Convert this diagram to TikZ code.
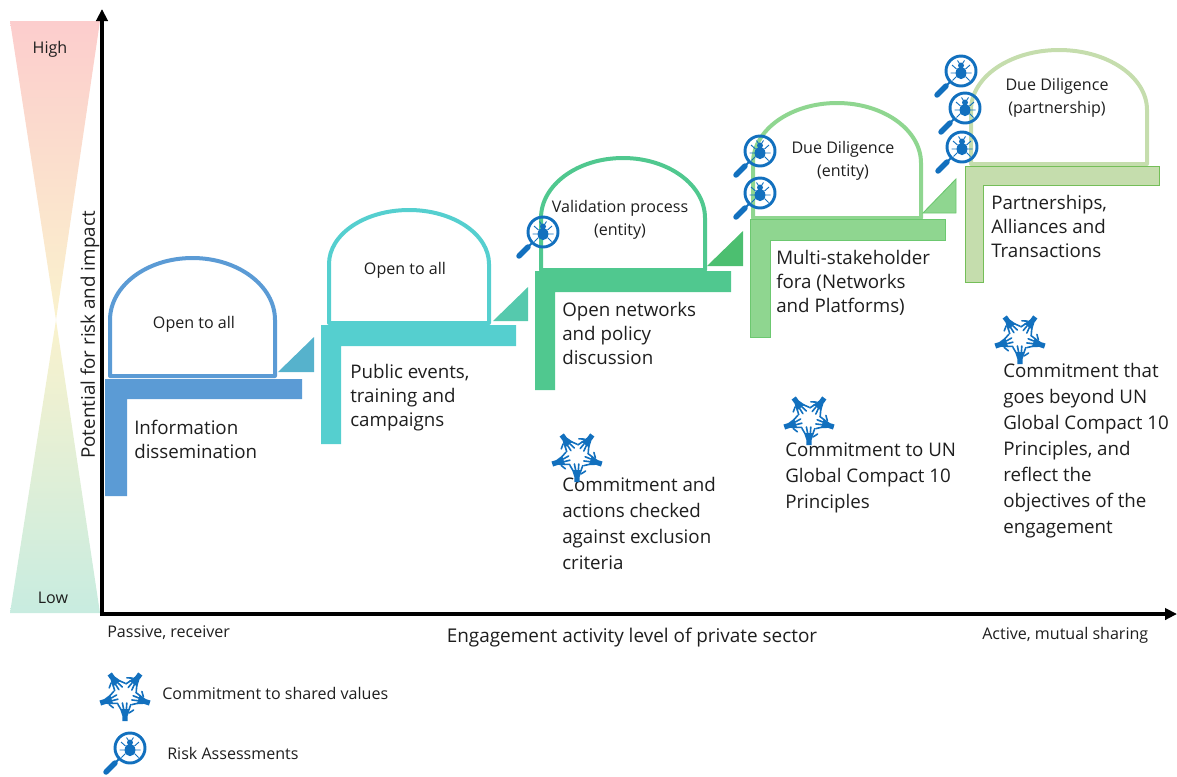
\documentclass[tikz,border=0pt]{standalone}
\usepackage{fontspec}
\setmainfont{Open Sans}
\usetikzlibrary{arrows.meta}
\definecolor{iconblue}{HTML}{1270BE}
\definecolor{txt}{HTML}{1E1E1E}
\definecolor{cA}{HTML}{5B9BD5}
\definecolor{cB}{HTML}{55CFCF}
\definecolor{cC}{HTML}{50C88F}
\definecolor{cD}{HTML}{8FD690}
\definecolor{cE}{HTML}{C5DDAD}
\definecolor{tA}{HTML}{56B2CC}
\definecolor{tB}{HTML}{55C9AD}
\definecolor{tC}{HTML}{4CBF70}
\definecolor{eD}{HTML}{6CC870}
\definecolor{eE}{HTML}{74BE58}
\definecolor{wedgeTop}{RGB}{252,205,205}
\definecolor{wedgeMid}{RGB}{250,242,205}
\definecolor{wedgeLow}{RGB}{200,236,224}
\newcommand{\domepath}[6]{\draw[line width=3pt,draw=#1,line join=round] (#2,#6) -- (#2,#4) arc[start angle=180,end angle=360,x radius={(#3-#2)/2},y radius={#4-#5}] -- (#3,#6) -- cycle;}
\newcommand{\ellshape}[7]{\fill[#1] (#2,#3) -- (#4,#3) -- (#4,#5) -- (#6,#5) -- (#6,#7) -- (#2,#7) -- cycle;}
\tikzset{
  body/.style={text=txt,font=\fontsize{14.05}{18}\selectfont,align=left,anchor=north west,inner sep=0pt},
  bodywide/.style={text=txt,font=\fontsize{14.05}{19.5}\selectfont,align=left,anchor=north west,inner sep=0pt},
  small/.style={text=txt,font=\fontsize{12.05}{17.2}\selectfont,align=center,inner sep=0pt},
  large/.style={text=txt,font=\fontsize{14.2}{17}\selectfont,align=center,inner sep=0pt},
  axis/.style={line width=2.4pt,-{Triangle[length=9pt,width=8.5pt]}},
  handicon/.pic={
    \foreach \a in {0,72,144,216,288}{
      \begin{scope}[rotate=\a]
        \fill[iconblue] (-2.6,26) -- (2.6,26) -- (2.6,21) -- (5,14) -- (-5,14) -- (-2.6,21) -- cycle;
        \draw[iconblue,line width=1.2pt,line cap=round] (-4,14.5) -- (-7,9.5) (-1.4,14) -- (-2.6,8) (1.4,14) -- (1.8,8) (4,14.5) -- (5.8,9.5);
        \draw[iconblue,line width=1.2pt,line cap=round] (4,18) -- (8.6,15);
      \end{scope}}
  },
  bugicon/.pic={
    \draw[iconblue,line width=2.2pt] (0,0) circle (15);
    \draw[iconblue,line width=1.5pt] (-10.5,10.5) -- (-14,14);
    \draw[iconblue,line width=4.1pt,line cap=round] (-15,15) -- (-24,24);
    \fill[iconblue] (0,2) ellipse (5.4 and 6.2);
    \fill[iconblue] (0,-5.5) circle (3);
    \draw[iconblue,line width=.7pt] (-1.5,-7.5) -- (-3.5,-10.5) (1.5,-7.5) -- (3.5,-10.5)
      (-4.5,-2) -- (-9,-6) (4.5,-2) -- (9,-6)
      (-5,2) -- (-10.5,2) (5,2) -- (10.5,2)
      (-4.5,5.5) -- (-8.5,9.5) (4.5,5.5) -- (8.5,9.5);
  }
}
\begin{document}
\begin{tikzpicture}[x=0.75pt,y=-0.75pt]
\useasboundingbox (0,0) rectangle (1177,776);
% risk wedge
\shade[top color=wedgeTop,bottom color=wedgeMid] (10,21) -- (100,21) -- (56,320) -- cycle;
\shade[top color=wedgeMid,bottom color=wedgeLow] (56,320) -- (100,613) -- (10,613) -- cycle;
% axes
\coordinate (origin) at (102,614);
\coordinate (xstart) at (100,614);
\coordinate (ytop) at (102,9);
\coordinate (xend) at (1177,614);
\draw[axis] (origin) -- (ytop);
\draw[axis] (xstart) -- (xend);
% domes
\domepath{cA}{110}{275}{320}{258}{376}
\domepath{cB}{329}{489}{264}{210}{323}
\domepath{cC}{541}{705}{218}{158}{270}
\domepath{cD}{753}{921}{163}{103}{218}
\domepath{cE}{971}{1147}{110}{50}{164}
% steps
\ellshape{cA}{105}{379}{302}{399}{127}{496}
\ellshape{cB}{321}{325}{516}{346}{341}{444}
\ellshape{cC}{535}{271}{731}{292}{555}{390}
\draw[eD,fill=cD,line width=.7pt] (750,219) -- (945,219) -- (945,240) -- (770,240) -- (770,337) -- (750,337) -- cycle;
\draw[eE,fill=cE,line width=.7pt] (965,166) -- (1159,166) -- (1159,185) -- (983,185) -- (983,282) -- (965,282) -- cycle;
% triangles
\fill[tA] (278,372) -- (314,337) -- (314,372) -- cycle;
\fill[tB] (493,321) -- (528,287) -- (528,321) -- cycle;
\fill[tC] (707,266) -- (743,231) -- (743,266) -- cycle;
\draw[eD,fill=cD,line width=.7pt] (923,213) -- (956,179) -- (956,213) -- cycle;
% dome labels
\node[small] (d1) at (194,324) {Open to all};
\node[small] (d2) at (405,270) {Open to all};
\node[small] (d3) at (620,220) {Validation process\\(entity)};
\node[small] (d4) at (843,161) {Due Diligence\\(entity)};
\node[small] (d5) at (1057,98) {Due Diligence\\(partnership)};
% step labels
\node[body] (s1) at (134,420) {Information\\dissemination};
\node[body] (s2) at (350,364) {Public events,\\training and\\campaigns};
\node[body] (s3) at (562,302) {Open networks\\and policy\\discussion};
\node[body] (s4) at (776,250) {Multi-stakeholder\\fora (Networks\\and Platforms)};
\node[body] (s5) at (991,195) {Partnerships,\\Alliances and\\Transactions};
% commitments
\node[bodywide] (c3) at (562,477) {Commitment and\\actions checked\\against exclusion\\criteria};
\node[bodywide] (c4) at (785,442) {Commitment to UN\\Global Compact 10\\Principles};
\node[bodywide] (c5) at (1003,363) {Commitment that\\goes beyond UN\\Global Compact 10\\Principles, and\\reflect the\\objectives of the\\engagement};
% axis texts
\node[text=txt,font=\fontsize{14.1}{17}\selectfont,inner sep=0pt,rotate=90] (yl) at (90,335) {Potential for risk and impact};
\node[small] (hi) at (50,49) {High};
\node[small] (lo) at (53,598) {Low};
\node[small,anchor=west] (pa) at (107,633) {Passive, receiver};
\node[large] (en) at (632,638) {Engagement activity level of private sector};
\node[small,anchor=west] (ac) at (982,635) {Active, mutual sharing};
\node[small,anchor=west] (lg1) at (162,693) {Commitment to shared values};
\node[small,anchor=west] (lg2) at (167,753) {Risk Assessments};
% icons
\pic at (125,695) {handicon};
\pic at (577,456) {handicon};
\pic at (809,419) {handicon};
\pic at (1020,338) {handicon};
\pic at (130,748) {bugicon};
\pic at (543,232) {bugicon};
\pic at (760,151) {bugicon};
\pic at (760,193) {bugicon};
\pic at (961,71) {bugicon};
\pic at (965,108) {bugicon};
\pic at (962,147) {bugicon};
\end{tikzpicture}
\end{document}
